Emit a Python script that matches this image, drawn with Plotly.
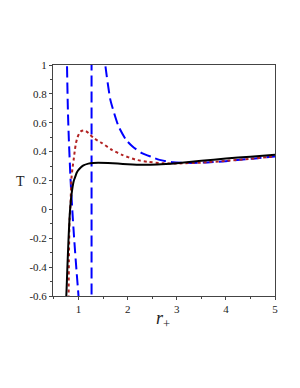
import plotly.graph_objects as go

# Black solid curve
r_black = [0.73, 0.751, 0.771, 0.798, 0.82, 0.838, 0.858, 0.879, 0.905, 0.934, 0.965, 1.0, 1.05, 1.1, 1.2, 1.3, 1.4, 1.6, 1.8, 2.0, 2.3, 2.6, 3.0, 3.5, 4.0, 4.5, 5.0]
T_black = [-0.7, -0.6, -0.42, -0.19, -0.04, 0.042, 0.105, 0.157, 0.2, 0.227, 0.255, 0.273, 0.292, 0.305, 0.317, 0.322, 0.323, 0.321, 0.317, 0.313, 0.309, 0.311, 0.32, 0.336, 0.352, 0.365, 0.378]

# Brown dotted curve
r_brown = [0.796, 0.798, 0.806, 0.818, 0.838, 0.853, 0.875, 0.90, 0.925, 0.948, 0.98, 1.016, 1.06, 1.10, 1.15, 1.205, 1.307, 1.478, 1.68, 1.885, 2.156, 2.4, 2.7, 3.0, 3.5, 4.0, 4.5, 5.0]
T_brown = [-0.7, -0.6, -0.285, -0.07, 0.04, 0.204, 0.28, 0.343, 0.41, 0.459, 0.5, 0.528, 0.543, 0.547, 0.542, 0.528, 0.494, 0.459, 0.412, 0.378, 0.345, 0.33, 0.32, 0.318, 0.324, 0.336, 0.35, 0.368]

# Blue dashed curve: left branch, jump line, right branch
r_blue1 = [0.762, 0.765, 0.783, 0.803, 0.838, 0.873, 0.913, 0.958, 1.0, 1.015]
T_blue1 = [1.1, 1.003, 0.69, 0.482, 0.204, -0.005, -0.214, -0.422, -0.603, -0.7]
r_blue2 = [1.265, 1.265]
T_blue2 = [-0.7, 1.1]
r_blue3 = [1.525, 1.545, 1.647, 1.714, 1.816, 1.967, 2.1, 2.29, 2.496, 2.65, 2.92, 3.3, 3.62, 4.0, 4.29, 4.6, 5.0]
T_blue3 = [1.1, 1.0, 0.76, 0.679, 0.574, 0.482, 0.435, 0.39, 0.362, 0.343, 0.326, 0.322, 0.325, 0.334, 0.343, 0.353, 0.366]

y_ticks = [-0.6, -0.4, -0.2, 0, 0.2, 0.4, 0.6, 0.8, 1]
y_labels = ["-0.6", "-0.4", "-0.2", "0", "0.2", "0.4", "0.6", "0.8", "1"]
x_ticks = [1, 2, 3, 4, 5]
x_labels = ["1", "2", "3", "4", "5"]

BLUE = "#0000FF"
DASH = "11px,5px"
fig = go.Figure()
fig.add_trace(go.Scatter(x=r_blue1, y=T_blue1, mode="lines",
                         line=dict(color=BLUE, width=2, dash=DASH, shape="spline", smoothing=0.6)))
fig.add_trace(go.Scatter(x=r_blue2, y=T_blue2, mode="lines",
                         line=dict(color=BLUE, width=2, dash=DASH)))
fig.add_trace(go.Scatter(x=r_blue3, y=T_blue3, mode="lines",
                         line=dict(color=BLUE, width=2, dash=DASH, shape="spline", smoothing=0.6)))
fig.add_trace(go.Scatter(x=r_brown, y=T_brown, mode="lines",
                         line=dict(color="#B22222", width=2, dash="dot", shape="spline", smoothing=0.6)))
fig.add_trace(go.Scatter(x=r_black, y=T_black, mode="lines",
                         line=dict(color="black", width=2, shape="spline", smoothing=0.6)))

axis_common = dict(showline=True, mirror=True, linecolor="#444", linewidth=1,
                   showgrid=False, zeroline=False, ticks="outside", ticklen=3,
                   tickcolor="#444", tickfont=dict(family="Liberation Serif", size=11, color="#222"))

fig.update_xaxes(range=[0.48, 5], tickmode="array", tickvals=x_ticks, ticktext=x_labels,
                 minor=dict(tickmode="linear", tick0=0.5, dtick=0.5, ticks="outside", ticklen=2, tickcolor="#444"),
                 **axis_common)
fig.update_yaxes(range=[-0.6, 1], tickmode="array", tickvals=y_ticks, ticktext=y_labels,
                 minor=dict(tickmode="linear", tick0=0, dtick=0.1, ticks="outside", ticklen=2, tickcolor="#444"),
                 **axis_common)

fig.add_annotation(text="T", xref="paper", yref="paper", x=-0.147, y=0.495,
                   xanchor="center", yanchor="middle",
                   showarrow=False, font=dict(family="Liberation Serif", size=14, color="#222"))
fig.add_annotation(text="<i>r</i><sub>+</sub>", xref="paper", yref="paper", x=0.496, y=-0.1,
                   xanchor="center", yanchor="middle",
                   showarrow=False, font=dict(family="Liberation Serif", size=18, color="#222"))

fig.update_layout(width=292, height=380, margin=dict(l=45, r=25, t=57, b=92),
                  paper_bgcolor="white", plot_bgcolor="white", showlegend=False)

fig.write_html("out.html")
